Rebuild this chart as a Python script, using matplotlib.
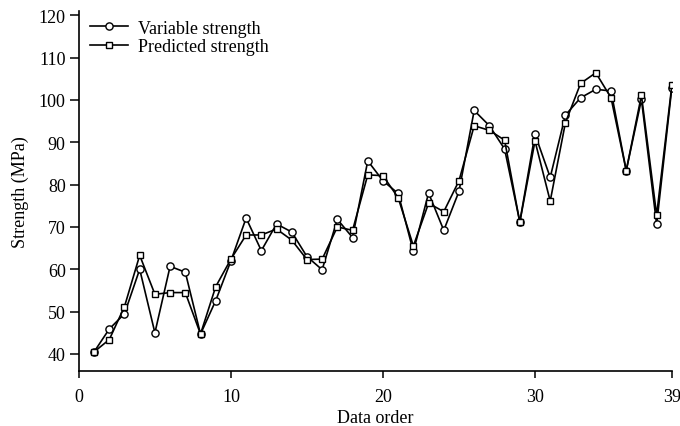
#!/usr/bin/env python3
# -*- coding: utf-8 -*-

import numpy as np
import matplotlib
matplotlib.use("Agg")
import matplotlib.pyplot as plt

####################
### Chart values ###
####################

DATA_ORDER = list(range(1, 40))

VARIABLE_STRENGTH = [40.5, 45.9, 49.5, 60.0, 45.0, 60.7, 59.3, 44.7, 52.6, 62.0,
                     72.1, 64.4, 70.7, 68.8, 63.0, 59.9, 71.8, 67.5, 85.6, 80.9,
                     77.9, 64.2, 78.0, 69.2, 78.4, 97.5, 93.9, 88.4, 71.2, 91.9,
                     81.7, 96.4, 100.5, 102.5, 102.1, 83.3, 100.1, 70.6, 102.9]

PREDICTED_STRENGTH = [40.5, 43.4, 51.2, 63.3, 54.1, 54.5, 54.5, 44.7, 55.9, 62.4,
                      68.1, 68.1, 69.5, 66.9, 62.3, 62.4, 70.0, 69.2, 82.3, 82.1,
                      76.9, 65.5, 75.6, 73.6, 80.9, 93.9, 92.8, 90.5, 71.1, 90.3,
                      76.1, 94.6, 103.9, 106.4, 100.5, 83.3, 101.1, 72.8, 103.4]

X_TICKS = [0, 10, 20, 30, 39]
Y_TICKS = list(range(40, 121, 10))

plt.rcParams['font.family'] = ['Liberation Serif', 'DejaVu Serif']
plt.rcParams['font.size'] = 13

fig = plt.figure(figsize=(6.8, 4.27), dpi=100)
ax = fig.add_axes([0.116, 0.129, 0.872, 0.843])

ax.plot(DATA_ORDER, VARIABLE_STRENGTH, color='black', linewidth=1.2,
        marker='o', markersize=5.2, markerfacecolor='white',
        markeredgecolor='black', markeredgewidth=1.0, label='Variable strength')
ax.plot(DATA_ORDER, PREDICTED_STRENGTH, color='black', linewidth=1.2,
        marker='s', markersize=4.6, markerfacecolor='white',
        markeredgecolor='black', markeredgewidth=1.0, label='Predicted strength')

ax.set_xlim(0, 39)
ax.set_ylim(36, 121)
ax.set_xticks(X_TICKS)
ax.set_yticks(Y_TICKS)
ax.tick_params(axis='x', direction='out', length=5, width=1.1,
               labelsize=13, pad=7)
ax.tick_params(axis='y', direction='out', length=6.5, width=1.1,
               labelsize=13, pad=3)

for side in ['top', 'right']:
    ax.spines[side].set_visible(False)
for side in ['left', 'bottom']:
    ax.spines[side].set_linewidth(1.2)

ax.set_xlabel('Data order', fontsize=13, labelpad=3)
ax.set_ylabel('Strength (MPa)', fontsize=13, labelpad=7)

ax.legend(loc='upper left', frameon=False, fontsize=13, handlelength=2.1,
          handletextpad=0.55, borderaxespad=0.2, labelspacing=0.1,
          bbox_to_anchor=(0.0, 1.006))

fig.savefig('out.png', dpi=100)
